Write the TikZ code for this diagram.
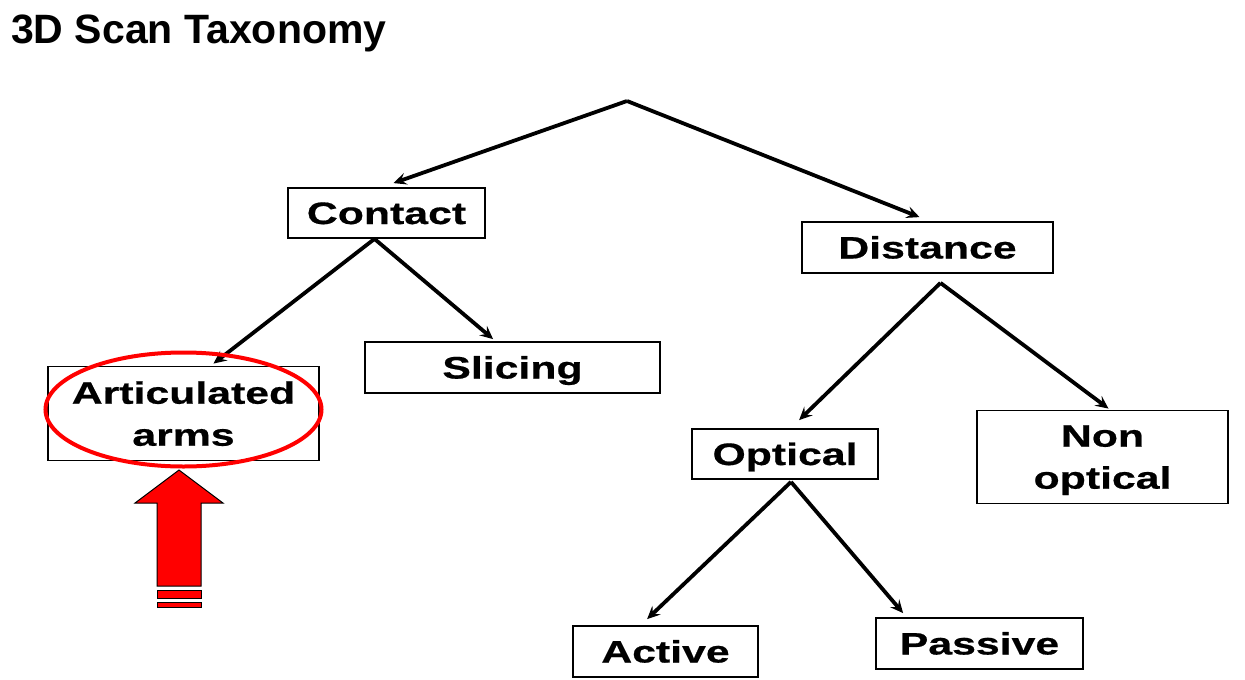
\documentclass[tikz,border=0pt]{standalone}
\usepackage{fontspec}
\setmainfont{Liberation Sans}
\newfontfamily\boxfont[FakeStretch=1.38,BoldFeatures={FakeBold=0.6}]{Liberation Sans}
\usetikzlibrary{arrows.meta}

\begin{document}
\begin{tikzpicture}[x=1pt,y=-1pt,
    box/.style={draw,line width=1.8pt,inner sep=0pt,align=center,text depth=0pt,
      font=\boxfont\bfseries\fontsize{31}{42}\selectfont},
    onebox/.style={box,text height=22pt},
    link/.style={line width=3.8pt,-{Stealth[length=13pt,width=12pt,inset=5pt]}}]
  \useasboundingbox (0,0) rectangle (1245,680);
  \node[anchor=base west,font=\bfseries\fontsize{41}{46}\selectfont,inner sep=0pt] (title) at (11,43) {3D Scan Taxonomy};

  \coordinate (root) at (627,101);
  \node[onebox,minimum width=197pt,minimum height=50pt] (contact) at (386.5,213) {Contact};
  \node[onebox,minimum width=251pt,minimum height=51pt] (distance) at (927.5,247.5) {Distance};
  \node[box,minimum width=271pt,minimum height=94pt] (arms) at (183.5,413.5) {Articulated\\arms};
  \node[onebox,minimum width=295pt,minimum height=51pt] (slicing) at (512.5,367.5) {Slicing};
  \node[onebox,minimum width=186pt,minimum height=50pt] (optical) at (785,454) {Optical};
  \node[box,minimum width=251pt,minimum height=93pt] (nonoptical) at (1102.5,457) {Non\\optical};
  \node[onebox,minimum width=185pt,minimum height=51pt] (active) at (665.5,651.5) {Active};
  \node[onebox,minimum width=207pt,minimum height=51pt] (passive) at (979.5,643.5) {Passive};

  % tree
  \draw[link] (root) -- ([xshift=7pt,yshift=4pt]contact.north);
  \draw[link] (root) -- ([xshift=-8pt,yshift=4pt]distance.north);
  \draw[link] ([xshift=-12pt]contact.south) -- ([xshift=30pt,yshift=2pt]arms.north);
  \draw[link] ([xshift=-12pt]contact.south) -- ([xshift=129pt,yshift=2pt]slicing.north west);
  \draw[link] ([xshift=13pt,yshift=-9pt]distance.south) -- ([xshift=108pt,yshift=8pt]optical.north west);
  \draw[link] ([xshift=13pt,yshift=-9pt]distance.south) -- ([xshift=6pt,yshift=1pt]nonoptical.north);
  \draw[link] ([xshift=6pt,yshift=-2pt]optical.south) -- ([xshift=75pt,yshift=6pt]active.north west);
  \draw[link] ([xshift=6pt,yshift=-2pt]optical.south) -- ([xshift=28pt,yshift=4pt]passive.north west);

  % highlight
  \draw[red,line width=4pt] (183.5,409.5) ellipse (138pt and 57pt);
  \draw[fill=red,line width=1pt] (179,470) -- (223,503) -- (201,503) -- (201,586)
    -- (157,586) -- (157,503) -- (135,503) -- cycle;
  \draw[fill=red,line width=1pt] (157,590) rectangle (201,598);
  \draw[fill=red,line width=1pt] (157,602) rectangle (201,607);
\end{tikzpicture}
\end{document}
